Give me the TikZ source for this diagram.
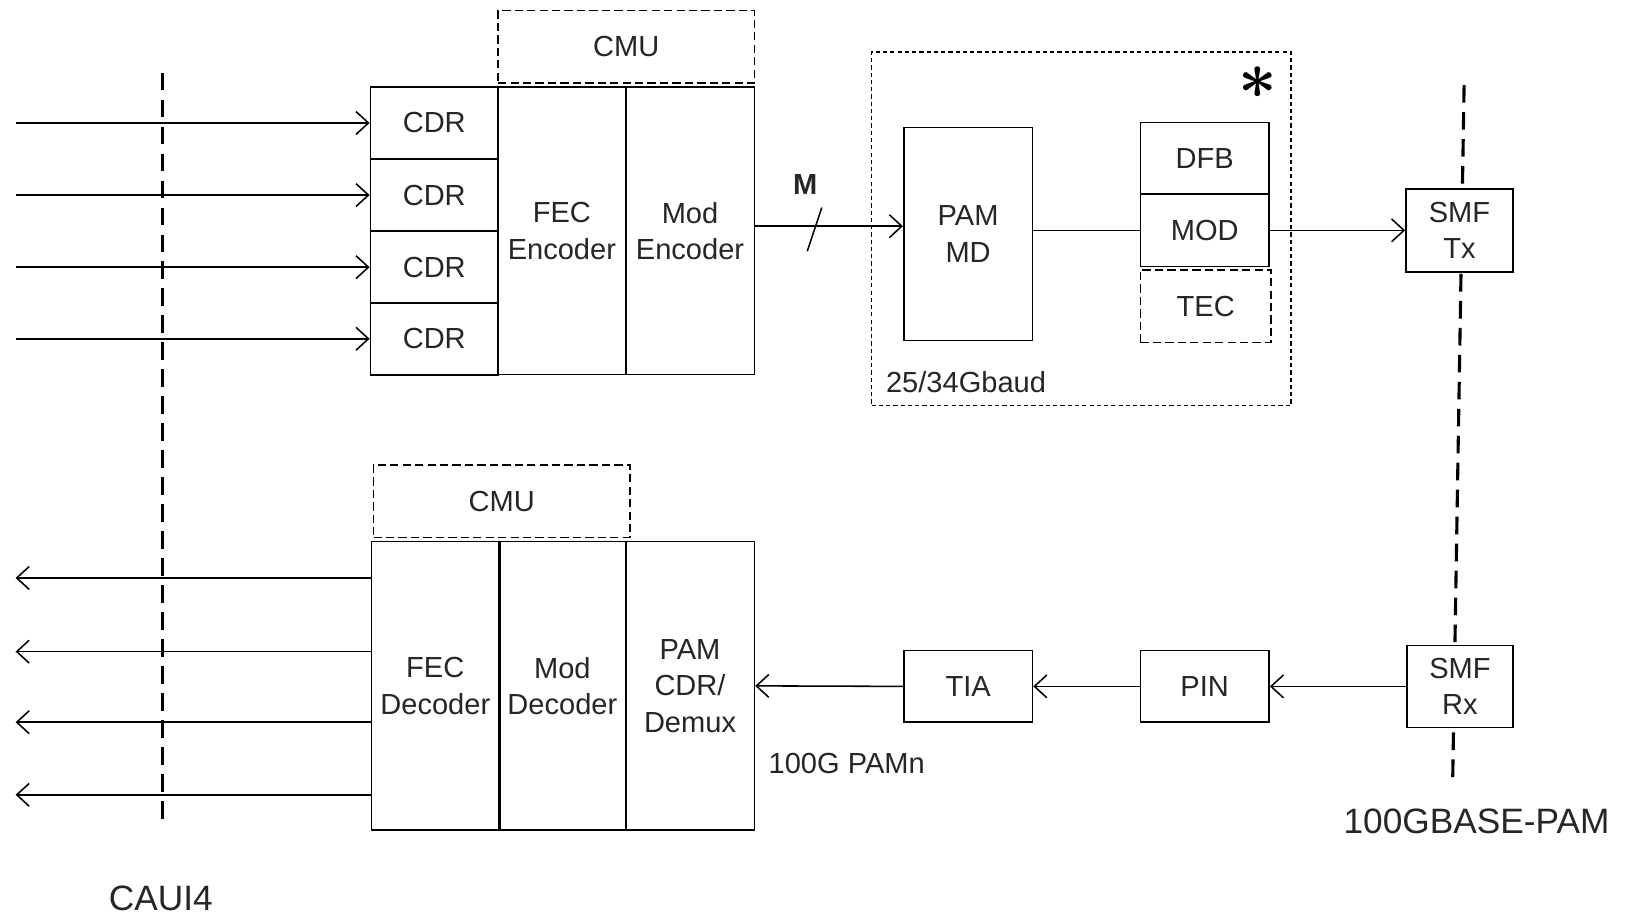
\documentclass[tikz,border=0pt]{standalone}
\usepackage{fontspec}
\usepackage{graphicx}
\setmainfont{Liberation Sans}
\usetikzlibrary{arrows.meta}
\begin{document}
\begin{tikzpicture}[x=1pt,y=-1pt,
  every node/.style={font=\fontsize{28}{35}\selectfont, text=black!85},
  blk/.style={draw, line width=1.6pt, fill=white, align=center, inner sep=0pt},
  dblk/.style={blk, dash pattern=on 8pt off 4pt},
  arr/.style={line width=1.5pt, -{Straight Barb[length=12pt,width=22pt,line width=1.5pt]}},
  wire/.style={line width=1.5pt},
  divider/.style={line width=3pt, dash pattern=on 17pt off 9pt},
  lbl/.style={inner sep=0pt}]
\useasboundingbox (0,0) rectangle (1568,885);
% interface lines
\draw[divider] (157,70) -- (157,795);
\draw[divider] (1411,82) -- (1400,752);
% ---- transmit ----
\node[blk, minimum width=123pt, minimum height=69.5pt] (cdr1) at (418.5,118.5) {CDR};
\node[blk, minimum width=123pt, minimum height=69.5pt] (cdr2) at (418.5,188) {CDR};
\node[blk, minimum width=123pt, minimum height=69.5pt] (cdr3) at (418.5,257.5) {CDR};
\node[blk, minimum width=123pt, minimum height=69.5pt] (cdr4) at (418.5,326.5) {CDR};
\node[blk, minimum width=123pt, minimum height=277pt] (fecenc) at (541.5,222.5) {FEC\\Encoder};
\node[blk, minimum width=124pt, minimum height=277pt] (modenc) at (665,222.5) {Mod\\Encoder};
\node[dblk, minimum width=247pt, minimum height=70pt] (cmut) at (603.5,45) {CMU};
\coordinate (i1) at (15,118.5);
\coordinate (i2) at (15,188);
\coordinate (i3) at (15,257.5);
\coordinate (i4) at (15,326.5);
\draw[arr] (i1) -- (cdr1.west);
\draw[arr] (i2) -- (cdr2.west);
\draw[arr] (i3) -- (cdr3.west);
\draw[arr] (i4) -- (cdr4.west);
% optical front end
\node[draw, line width=1.3pt, dash pattern=on 4pt off 3pt, minimum width=404pt, minimum height=341pt, inner sep=0pt] (ofe) at (1042,220.5) {};
\node[lbl, text=black] (star) at (1212,80) {\scalebox{2.6}{\boldmath$\ast$}};
\node[lbl] (baud) at (931,368) {25/34Gbaud};
\node[blk, minimum width=124pt, minimum height=205pt] (pammd) at (933,225.5) {PAM\\MD};
\node[blk, minimum width=124pt, minimum height=69pt] (dfb) at (1161,152.5) {DFB};
\node[blk, minimum width=124pt, minimum height=70pt] (mod) at (1161,222) {MOD};
\node[dblk, minimum width=126pt, minimum height=70pt] (tec) at (1162,295) {TEC};
\node[blk, minimum width=103pt, minimum height=80pt] (smftx) at (1406.5,222) {SMF\\Tx};
\coordinate (mline) at (727,218);
\draw[arr] (mline) -- (mline -| pammd.west);
\coordinate (s1) at (778,242);
\coordinate (s2) at (792,200);
\draw[wire] (s1) -- (s2);
\node[lbl, font=\fontsize{28}{35}\bfseries] (m) at (776,178) {M};
\draw[wire] (pammd.east |- mod.west) -- (mod.west);
\draw[arr] (mod.east) -- (smftx.west);
% ---- receive ----
\node[blk, minimum width=123pt, minimum height=278pt] (fecdec) at (419.5,661) {FEC\\Decoder};
\node[blk, minimum width=122pt, minimum height=278pt] (moddec) at (542,661) {Mod\\Decoder};
\node[blk, minimum width=124pt, minimum height=278pt] (pamcdr) at (665,661) {PAM\\CDR/\\Demux};
\draw[line width=3pt] (fecdec.north east) -- (fecdec.south east);
\node[dblk, minimum width=247pt, minimum height=70pt] (cmub) at (483.5,483) {CMU};
\node[blk, minimum width=124pt, minimum height=69pt] (tia) at (933,661.5) {TIA};
\node[blk, minimum width=124pt, minimum height=69pt] (pin) at (1161,661.5) {PIN};
\node[blk, minimum width=102pt, minimum height=79pt] (smfrx) at (1407,661.5) {SMF\\Rx};
\draw[arr] (smfrx.west) -- (pin.east);
\draw[arr] (pin.west) -- (tia.east);
\draw[arr] (tia.west) -- (pamcdr.east);
\node[lbl] (pamn) at (816,736) {100G PAMn};
\coordinate (o1) at (15,557);
\coordinate (o2) at (15,628);
\coordinate (o3) at (15,696);
\coordinate (o4) at (15,766);
\draw[arr] (fecdec.west |- o1) -- (o1);
\draw[arr] (fecdec.west |- o2) -- (o2);
\draw[arr] (fecdec.west |- o3) -- (o3);
\draw[arr] (fecdec.west |- o4) -- (o4);
% interface labels
\node[lbl, font=\fontsize{34}{40}\selectfont] (caui) at (155,866) {CAUI4};
\node[lbl, font=\fontsize{34}{40}\selectfont] (base) at (1423,792) {100GBASE-PAM};
\end{tikzpicture}
\end{document}
